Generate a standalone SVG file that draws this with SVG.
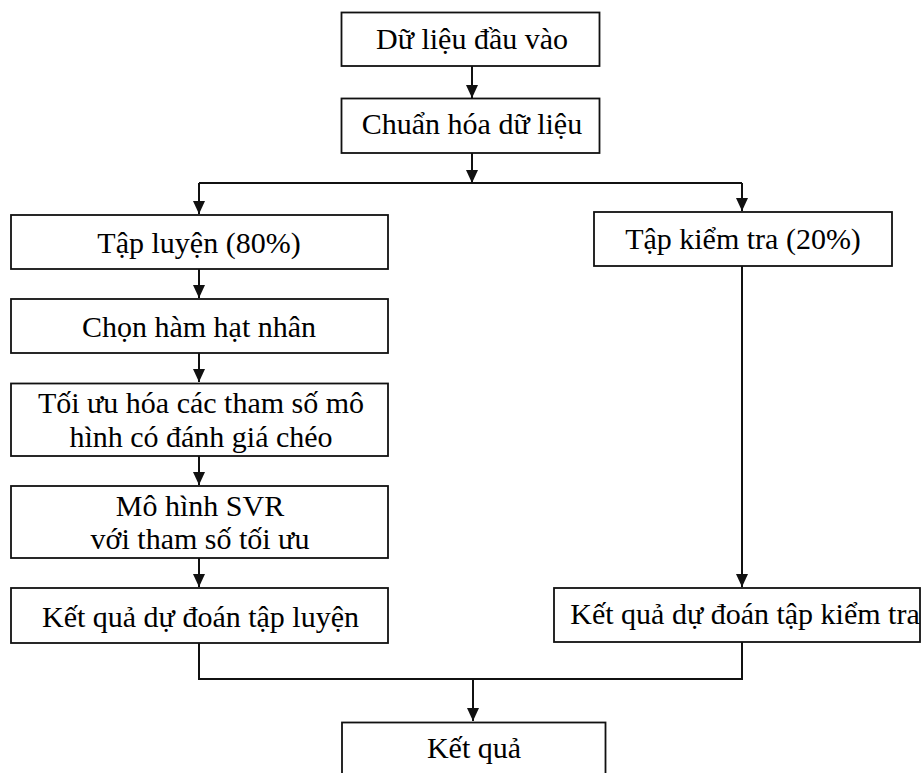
<svg xmlns="http://www.w3.org/2000/svg" width="923" height="773" viewBox="0 0 923 773">
  <style>
    .box { fill: #ffffff; stroke: #111111; stroke-width: 1.8; }
    .lbl { font-family: "Liberation Serif", "Times New Roman", serif; font-size: 30px; fill: #000000; text-anchor: middle; }
    .wire { fill: none; stroke: #111111; stroke-width: 2; }
  </style>
  <defs>
    <!-- filled arrowhead, tip sits on the line end -->
    <marker id="head" markerUnits="userSpaceOnUse" markerWidth="13" markerHeight="12" refX="13" refY="6" orient="auto" viewBox="0 0 13 12">
      <path d="M0,0 L13,6 L0,12 Z" fill="#111111"/>
    </marker>
  </defs>

  <!-- connectors -->
  <g id="connectors">
    <path class="wire" d="M472,66 V98" marker-end="url(#head)"/>
    <path class="wire" d="M472,153 V183" marker-end="url(#head)"/>
    <path class="wire" d="M199,183 H742"/>
    <path class="wire" d="M199,183 V214" marker-end="url(#head)"/>
    <path class="wire" d="M742,183 V211" marker-end="url(#head)"/>
    <path class="wire" d="M199,269 V298" marker-end="url(#head)"/>
    <path class="wire" d="M199,353 V382" marker-end="url(#head)"/>
    <path class="wire" d="M199,456 V485" marker-end="url(#head)"/>
    <path class="wire" d="M199,558 V587" marker-end="url(#head)"/>
    <path class="wire" d="M742,266 V587" marker-end="url(#head)"/>
    <path class="wire" d="M199,643 V679 H742 V642"/>
    <path class="wire" d="M473,679 V721" marker-end="url(#head)"/>
  </g>

  <g id="input">
    <rect class="box" x="341.5" y="12.5" width="258" height="53.5"/>
    <text class="lbl" x="472" y="49">Dữ liệu đầu vào</text>
  </g>

  <g id="normalize">
    <rect class="box" x="341.5" y="98.5" width="258" height="54.5"/>
    <text class="lbl" x="472" y="134">Chuẩn hóa dữ liệu</text>
  </g>

  <g id="train-set">
    <rect class="box" x="11" y="215" width="377" height="54"/>
    <text class="lbl" x="199" y="253">Tập luyện (80%)</text>
  </g>

  <g id="test-set">
    <rect class="box" x="594" y="212" width="298" height="54"/>
    <text class="lbl" x="743" y="249">Tập kiểm tra (20%)</text>
  </g>

  <g id="kernel">
    <rect class="box" x="11" y="299" width="377" height="54"/>
    <text class="lbl" x="199" y="337">Chọn hàm hạt nhân</text>
  </g>

  <g id="optimize">
    <rect class="box" x="11" y="383.5" width="377" height="72.5"/>
    <text class="lbl" x="201" y="413">Tối ưu hóa các tham số mô</text>
    <text class="lbl" x="201" y="447">hình có đánh giá chéo</text>
  </g>

  <g id="svr-model">
    <rect class="box" x="11" y="486" width="377" height="72"/>
    <text class="lbl" x="200" y="516">Mô hình SVR</text>
    <text class="lbl" x="200" y="549">với tham số tối ưu</text>
  </g>

  <g id="train-result">
    <rect class="box" x="11" y="588" width="377" height="55"/>
    <text class="lbl" x="200.5" y="627">Kết quả dự đoán tập luyện</text>
  </g>

  <g id="test-result">
    <rect class="box" x="554" y="588" width="366" height="54"/>
    <text class="lbl" x="745" y="624">Kết quả dự đoán tập kiểm tra</text>
  </g>

  <g id="result">
    <rect class="box" x="342" y="722.5" width="263.5" height="70"/>
    <text class="lbl" x="474" y="758">Kết quả</text>
  </g>
</svg>
